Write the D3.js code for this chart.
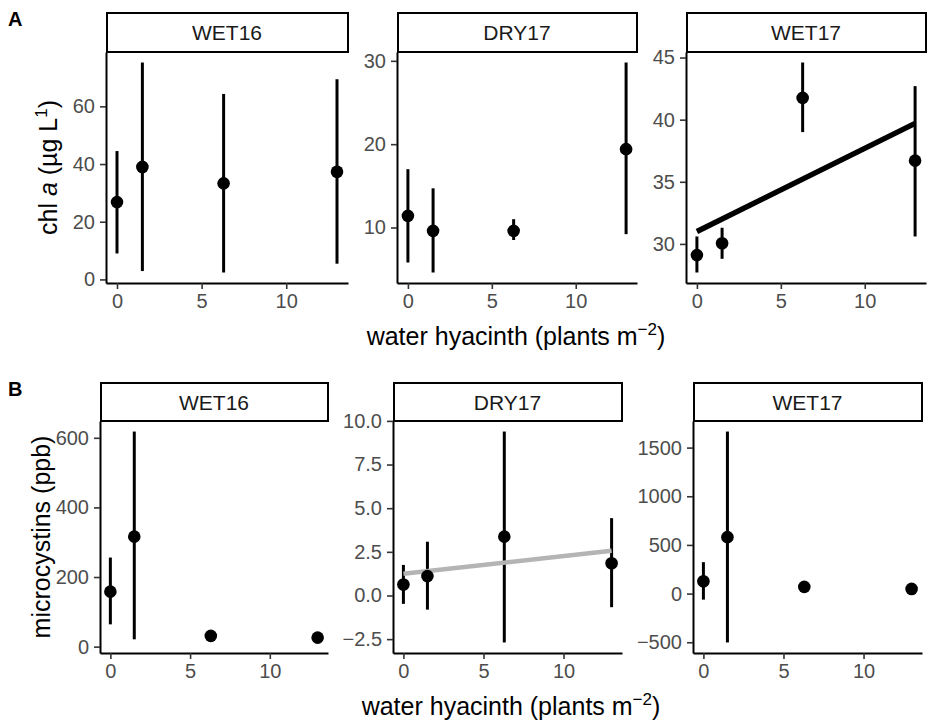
<!DOCTYPE html>
<html>
<head>
<meta charset="utf-8">
<script src="https://cdn.jsdelivr.net/npm/d3@7"></script>
<style>
  body { margin: 0; background: #fff; }
  text { font-family: "Liberation Sans", Arial, Helvetica, sans-serif; }
</style>
</head>
<body>
<svg id="vis"></svg>
<script>
const svg = d3.select("#vis").attr("width", 935).attr("height", 728);

// data
const seasons = ["WET16", "DRY17", "WET17"];
const hyacinth = [0, 1.5, 6.3, 13];
const xTicks = [0, 5, 10];

// chl a (ug/L): mean, lower and upper error bar
const chlMean = [[26.8, 39.0, 33.3, 37.3], [11.4, 9.6, 9.6, 19.4], [29.1, 30.05, 41.75, 36.7]];
const chlLow = [[9.0, 2.9, 2.4, 5.45], [5.8, 4.6, 8.5, 9.2], [27.7, 28.8, 39.0, 30.6]];
const chlHigh = [[44.5, 75.2, 64.3, 69.4], [17.0, 14.7, 11.0, 29.8], [30.6, 31.3, 44.6, 42.7]];
const chlFit = [null, null, [31.0, 39.7]];
const chlTicks = [[0, 20, 40, 60], [10, 20, 30], [30, 35, 40, 45]];

// microcystins (ppb)
const mcMean = [[158, 316, 31, 26], [0.63, 1.11, 3.37, 1.85], [127, 580, 69, 48]];
const mcLow = [[64, 21, 20, 12], [-0.48, -0.81, -2.69, -0.67], [-62, -502, 45, 30]];
const mcHigh = [[256, 618, 42, 40], [1.75, 3.08, 9.39, 4.43], [323, 1665, 95, 66]];
const mcFit = [null, [1.25, 2.56], null];
const mcTicks = [[0, 200, 400, 600], [-2.5, 0, 2.5, 5, 7.5, 10], [-500, 0, 500, 1000, 1500]];

const rows = [
    {
        label: "A", mean: chlMean, low: chlLow, high: chlHigh, fit: chlFit, ticks: chlTicks,
        fitColor: ["#000", "#000", "#000"], fmt: [d3.format("d"), d3.format("d"), d3.format("d")],
        stripTop: 13, top: 52, bottom: 283,
        panels: [[106, 348], [397, 637], [686, 926]],
        ytitleX: 57, xtitleX: 516
    },
    {
        label: "B", mean: mcMean, low: mcLow, high: mcHigh, fit: mcFit, ticks: mcTicks,
        fitColor: ["#000", "#b4b4b4", "#000"], fmt: [d3.format("d"), d3.format(".1f"), d3.format("d")],
        stripTop: 383, top: 421, bottom: 653,
        panels: [[100, 328], [393, 622], [693, 922]],
        ytitleX: 50, xtitleX: 511
    }
];

const minus = s => s.replace("-", "\u2212");

function expand(lo, hi) {
    const pad = (hi - lo) * 0.05;
    return [lo - pad, hi + pad];
}

function drawPanel(row, i) {
    const [x0, x1] = row.panels[i];
    const g = svg.append("g");

    const x = d3.scaleLinear()
        .domain(expand(d3.min(hyacinth), d3.max(hyacinth)))
        .range([x0, x1]);
    const lows = row.low[i].concat(row.fit[i] || []);
    const highs = row.high[i].concat(row.fit[i] || []);
    const y = d3.scaleLinear()
        .domain(expand(d3.min(lows), d3.max(highs)))
        .range([row.bottom, row.top]);

    // strip
    g.append("rect")
        .attr("x", x0 + 1).attr("y", row.stripTop)
        .attr("width", x1 - x0 - 1).attr("height", row.top - row.stripTop)
        .attr("fill", "#fff").attr("stroke", "#000").attr("stroke-width", 2);
    g.append("text")
        .attr("x", (x0 + x1) / 2).attr("y", (row.stripTop + row.top) / 2 + 7.5)
        .attr("text-anchor", "middle")
        .attr("font-size", 21).attr("fill", "#1a1a1a")
        .text(seasons[i]);

    // axes
    const ax = g.append("g")
        .attr("transform", `translate(0,${row.bottom})`)
        .call(d3.axisBottom(x).tickValues(xTicks).tickSize(6).tickSizeOuter(0).tickPadding(5));
    const ay = g.append("g")
        .attr("transform", `translate(${x0},0)`)
        .call(d3.axisLeft(y).tickValues(row.ticks[i]).tickSize(6).tickSizeOuter(0).tickPadding(5)
            .tickFormat(d => minus(row.fmt[i](d))));
    [ax, ay].forEach(a => {
        a.select(".domain").attr("stroke", "#000").attr("stroke-width", 2);
        a.selectAll(".tick line").attr("stroke", "#333").attr("stroke-width", 1.6);
        a.selectAll(".tick text")
            .attr("font-family", "Liberation Sans, Arial, sans-serif")
            .attr("font-size", 20).attr("fill", "#4d4d4d");
    });

    const pts = hyacinth.map((h, j) => ({
        x: h, m: row.mean[i][j], lo: row.low[i][j], hi: row.high[i][j]
    }));

    // error bars
    g.selectAll(".err").data(pts).join("line")
        .attr("class", "err")
        .attr("x1", d => x(d.x)).attr("x2", d => x(d.x))
        .attr("y1", d => y(d.lo)).attr("y2", d => y(d.hi))
        .attr("stroke", "#000").attr("stroke-width", 3);

    // fitted line
    if (row.fit[i]) {
        const xs = [d3.min(hyacinth), d3.max(hyacinth)];
        g.append("line")
            .attr("x1", x(xs[0])).attr("y1", y(row.fit[i][0]))
            .attr("x2", x(xs[1])).attr("y2", y(row.fit[i][1]))
            .attr("stroke", row.fitColor[i])
            .attr("stroke-width", row.fitColor[i] === "#000" ? 5.5 : 4.5);
    }

    // points
    g.selectAll(".pt").data(pts).join("circle")
        .attr("class", "pt")
        .attr("cx", d => x(d.x)).attr("cy", d => y(d.m))
        .attr("r", 6.3).attr("fill", "#000");
}

rows.forEach(row => {
    row.panels.forEach((_, i) => drawPanel(row, i));

    svg.append("text")
        .attr("x", 8).attr("y", row.stripTop + 13)
        .attr("font-size", 20).attr("font-weight", "bold")
        .text(row.label);

    // x title
    const xt = svg.append("text")
        .attr("x", row.xtitleX).attr("y", row.bottom + 62)
        .attr("text-anchor", "middle").attr("font-size", 25).attr("fill", "#000");
    xt.append("tspan").text("water hyacinth (plants m");
    xt.append("tspan").attr("dy", -10).attr("font-size", 17).text("\u22122");
    xt.append("tspan").attr("dy", 10).text(")");
});

// y titles
const yA = svg.append("text")
    .attr("transform", `translate(${rows[0].ytitleX},${(rows[0].top + rows[0].bottom) / 2}) rotate(-90)`)
    .attr("text-anchor", "middle").attr("font-size", 25).attr("fill", "#000");
yA.append("tspan").text("chl ");
yA.append("tspan").attr("font-style", "italic").text("a");
yA.append("tspan").text(" (\u00b5g L");
yA.append("tspan").attr("dy", -10).attr("font-size", 17).text("1");
yA.append("tspan").attr("dy", 10).text(")");

svg.append("text")
    .attr("transform", `translate(${rows[1].ytitleX},${(rows[1].top + rows[1].bottom) / 2}) rotate(-90)`)
    .attr("text-anchor", "middle").attr("font-size", 25).attr("fill", "#000")
    .text("microcystins (ppb)");
</script>
</body>
</html>
